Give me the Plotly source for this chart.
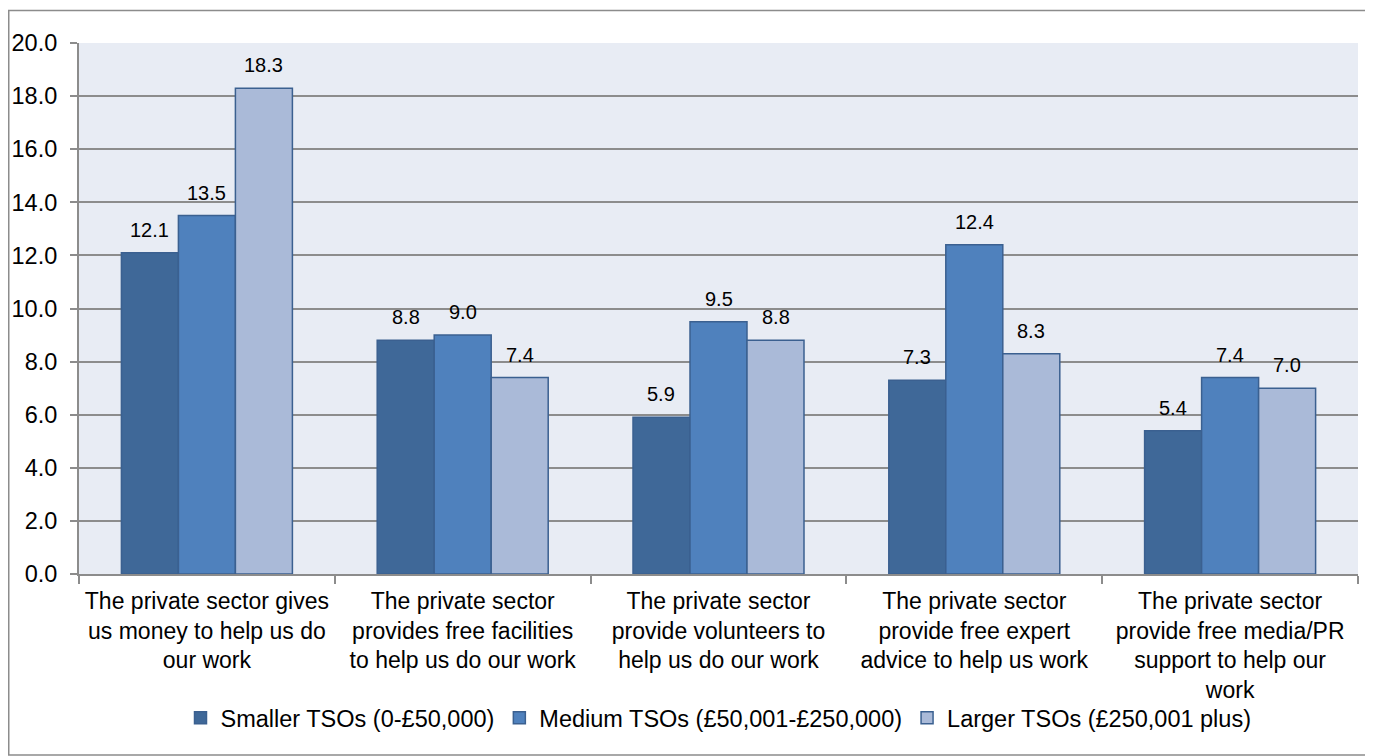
import plotly.graph_objects as go

categories = [
    "The private sector gives<br>us money to help us do<br>our work",
    "The private sector<br>provides free facilities<br>to help us do our work",
    "The private sector<br>provide volunteers to<br>help us do our work",
    "The private sector<br>provide free expert<br>advice to help us work",
    "The private sector<br>provide free media/PR<br>support to help our<br>work",
]
series_names = [
    "Smaller TSOs (0-£50,000)",
    "Medium TSOs (£50,001-£250,000)",
    "Larger TSOs (£250,001 plus)",
]
smaller = [12.1, 8.8, 5.9, 7.3, 5.4]
medium = [13.5, 9.0, 9.5, 12.4, 7.4]
larger = [18.3, 7.4, 8.8, 8.3, 7.0]
y_ticks = [0, 2, 4, 6, 8, 10, 12, 14, 16, 18, 20]

colors = ["#3F6898", "#4F81BD", "#AABAD8"]
outline = "#3B6090"
FONT = "Liberation Sans, Arial, sans-serif"

# page body adds an 8px offset; figure coordinates = screen - 8
OFF = 8
W, H = 1365, 748
ML, MR, MT, MB = 79 - OFF, 15, 43 - OFF, 182
pw = W - ML - MR
ph = H - MT - MB

fig = go.Figure()
all_series = [smaller, medium, larger]
for name, vals, col in zip(series_names, all_series, colors):
    fig.add_trace(go.Bar(
        x=categories, y=vals, name=name,
        marker=dict(color=col, line=dict(color=outline, width=1.5)),
    ))

bargap = 0.3315
bar_px = pw / len(categories) * (1 - bargap) / 3
annotations = []
for i, vals in enumerate(all_series):
    for c, v in zip(categories, vals):
        annotations.append(dict(
            x=c, y=v, xref="x", yref="y", text=f"{v:.1f}",
            showarrow=False, xshift=(i - 1) * bar_px, yshift=23,
            yanchor="middle", xanchor="center",
            font=dict(family=FONT, size=20, color="#000000"),
        ))

def px_to_paper_x(px):
    return (px - OFF - ML) / pw

def px_to_paper_y(py):
    return (H - MB - (py - OFF)) / ph

fig.update_layout(
    width=W, height=H,
    margin=dict(l=ML, r=MR, t=MT, b=MB, pad=0, autoexpand=False),
    paper_bgcolor="#FFFFFF",
    plot_bgcolor="#E8ECF4",
    barmode="group",
    bargap=bargap,
    bargroupgap=0,
    font=dict(family=FONT, size=23, color="#000000"),
    showlegend=True,
    legend=dict(
        orientation="h", x=0.5, xanchor="center",
        y=px_to_paper_y(718), yanchor="middle",
        font=dict(family=FONT, size=23.5, color="#000000"),
        bgcolor="rgba(0,0,0,0)",
        itemwidth=30, traceorder="normal",
    ),
    annotations=annotations,
    shapes=[dict(
        type="rect", xref="paper", yref="paper",
        x0=px_to_paper_x(8.75), x1=px_to_paper_x(1368.5),
        y0=px_to_paper_y(755), y1=px_to_paper_y(10.5),
        line=dict(color="#8C8C8C", width=1.5), fillcolor="rgba(0,0,0,0)",
        layer="below",
    )],
)
fig.update_xaxes(
    automargin=False,
    showline=True, linecolor="#8C8C8C", linewidth=2,
    ticks="outside", tickson="boundaries", ticklen=8, tickcolor="#8C8C8C", tickwidth=2,
    showgrid=False, tickfont=dict(family=FONT, size=23, color="#000000"),
    tickangle=0, ticklabelstandoff=5,
)
fig.update_yaxes(
    automargin=False,
    range=[0, 20], tickvals=y_ticks, tickformat=".1f",
    showline=True, linecolor="#8C8C8C", linewidth=2,
    ticks="outside", ticklen=7, tickcolor="#8C8C8C", tickwidth=2,
    showgrid=True, gridcolor="#8C8C8C", gridwidth=2,
    zeroline=False, ticklabelstandoff=8,
    tickfont=dict(family=FONT, size=23.5, color="#000000"),
)

fig.write_html("out.html")
